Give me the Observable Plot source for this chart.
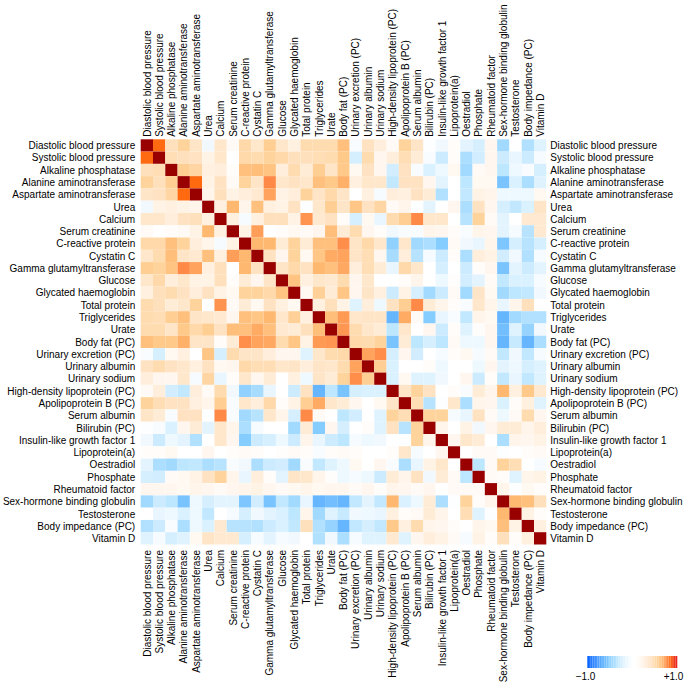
<!DOCTYPE html>
<html><head><meta charset="utf-8">
<script src="https://cdn.jsdelivr.net/npm/d3@7"></script>
<script src="https://cdn.jsdelivr.net/npm/@observablehq/plot@0.6"></script>
<style>
html,body{margin:0;padding:0;background:#fff;overflow:hidden}
#wrap{position:relative;width:685px;height:684px}
#wrap svg{display:block;position:absolute;background:transparent}
</style></head><body><div id="wrap"></div>
<script>
const names = ["Diastolic blood pressure","Systolic blood pressure","Alkaline phosphatase","Alanine aminotransferase","Aspartate aminotransferase","Urea","Calcium","Serum creatinine","C-reactive protein","Cystatin C","Gamma glutamyltransferase","Glucose","Glycated haemoglobin","Total protein","Triglycerides","Urate","Body fat (PC)","Urinary excretion (PC)","Urinary albumin","Urinary sodium","High-density lipoprotein (PC)","Apolipoprotein B (PC)","Serum albumin","Bilirubin (PC)","Insulin-like growth factor 1","Lipoprotein(a)","Oestradiol","Phosphate","Rheumatoid factor","Sex-hormone binding globulin","Testosterone","Body impedance (PC)","Vitamin D"];
// upper triangle of the matrix, each row starts right after the diagonal
const upper = [
[.65,.15,.2,.13,-.04,.12,.03,.18,.12,.22,.12,.08,.17,.17,.17,.27,-.02,.14,.09,.03,.2,.13,-.01,-.04,.02,-.07,-.1,.05,-.2,0,-.17,-.08],
[.16,.15,.14,.07,.12,0,.18,.17,.2,.18,.15,.15,.16,.17,.24,-.1,.17,.05,.09,.16,.1,-.02,-.12,.02,-.18,-.11,.05,-.12,-.06,-.12,-.03],
[.22,.19,.08,.09,.02,.27,.28,.26,.09,.17,.1,.22,.13,.24,.04,.14,.05,-.11,.14,-.02,-.09,-.05,.04,-.2,.03,.05,-.15,-.05,-.02,-.1],
[.65,.07,.14,.03,.2,.13,.5,.12,.14,.12,.27,.24,.33,.08,.12,.12,-.14,.14,.14,.05,-.07,0,-.15,.04,.04,-.28,-.09,-.18,-.08],
[.06,.15,.07,.09,.11,.38,.07,.09,.2,.13,.18,.13,0,.08,-.03,.09,.08,.14,.1,-.17,0,-.14,.07,.06,-.05,-.05,-.05,.04],
[.08,.3,.06,.27,.08,.07,.14,-.01,.12,.22,.13,.25,.14,.19,.03,.06,-.01,-.07,0,.05,-.18,.14,.05,-.1,-.14,-.09,.13],
[.08,-.03,.08,.15,.15,.07,.45,.11,.14,.02,-.1,.04,-.06,.17,.22,.5,.12,.12,0,-.16,.2,.03,-.07,0,.11,.11],
[.07,.4,0,.02,.04,.03,.05,.28,.1,.17,.05,.02,-.04,-.02,-.02,.06,.05,.02,-.02,.06,.05,-.07,-.03,-.16,.11],
[.3,.3,.1,.2,.1,.27,.27,.48,.13,.18,.12,-.23,.12,-.2,-.18,-.25,.03,-.04,-.06,.06,-.27,-.1,-.16,-.1],
[.14,.05,.2,.04,.25,.35,.38,.13,.16,.05,-.19,.09,-.16,-.03,-.12,.02,-.18,.09,.07,-.11,-.04,-.17,-.03],
[.13,.18,.14,.3,.27,.36,.09,.16,.1,-.06,.18,.12,0,-.1,0,-.12,.02,.05,-.28,-.07,-.12,-.07],
[.26,.08,.12,.11,.17,.05,.12,0,0,.02,.06,0,-.05,.01,-.11,-.07,.03,-.14,-.09,-.09,-.03],
[.04,.21,.1,.25,.05,.13,.08,-.12,.07,-.1,-.2,-.12,.03,-.2,.13,.04,-.2,-.15,-.14,-.04],
[.08,.15,.07,-.08,.09,-.05,.14,.22,.5,.1,.06,.02,-.02,.12,.06,-.06,.06,.15,0],
[.28,.42,.12,.13,.13,-.33,.35,.03,-.25,-.06,-.02,-.14,.06,.04,-.33,-.2,-.17,-.17],
[.44,.17,.12,.1,-.15,.12,0,.05,-.12,.02,-.08,.01,.05,-.3,-.08,-.22,-.04],
[.18,.17,.2,-.28,.1,-.15,-.1,-.15,.03,-.05,-.05,.05,-.33,-.13,-.33,-.18],
[.38,.48,-.1,.05,-.11,0,-.03,.02,.04,-.03,.03,-.14,-.04,-.14,-.03],
[.22,-.09,0,0,.02,-.05,0,0,-.05,.05,-.07,-.05,-.1,-.08],
[-.09,.04,-.08,-.08,-.04,0,.05,-.12,.02,-.14,-.06,-.14,-.08],
[.13,.2,.14,0,.02,-.02,.1,.06,.3,.08,.24,.11],
[.16,-.16,-.01,.12,-.18,.06,.05,-.09,.02,.08,-.08],
[.2,.2,-.03,-.06,.14,.03,-.05,.03,.17,.05],
[.06,0,.07,-.04,.05,.1,.1,.06,.09],
[.05,.12,.1,0,-.18,.06,.05,.07],
[0,.03,.03,-.01,0,.02,.03],
[-.15,.03,.2,.16,0,-.03],
[.03,.02,-.08,.06,.07],
[.06,-.01,.04,.02],
[.3,.27,.15],
[.07,.02],
[.08]
];
const colorStops = [-1,-.33,-.25,-.15,-.05,0,.05,.1,.15,.2,.3,.4,.5,.65,.98,1];
const colorRange = ["#0a64ff","#66b5ff","#85ccff","#bde6ff","#eef8ff","#ffffff","#fff7ef","#ffecd6","#ffe0bd","#ffd49c","#ffb870","#ff9e58","#ff8a48","#ff6a10","#e8251f","#990000"];
const legendValues = [-1,-.9,-.8,-.72,-.65,-.57,-.5,-.44,-.38,-.33,-.3,-.27,-.24,-.22,-.2,-.18,-.16,-.14,-.12,-.1,-.085,-.07,-.055,-.04,-.025,-.012,0,0,.012,.025,.04,.055,.07,.085,.1,.115,.13,.145,.16,.18,.2,.225,.25,.3,.36,.44,.52,.6,.7,.8,.9,.98];
const legendLabels = ["−1.0","+1.0"];

const cells = [];
names.forEach((a,i)=>{
  cells.push({a,b:a,v:1});
  (upper[i]||[]).forEach((v,k)=>{
    const b = names[i+1+k];
    cells.push({a,b,v},{a:b,b:a,v});
  });
});
const color = {type:"linear",domain:colorStops,range:colorRange,clamp:true};
const fs = 10;
const font = {fontFamily:"'Liberation Sans',Helvetica,Arial,sans-serif",fontSize:fs+"px",color:"#000",background:"transparent",overflow:"visible"};
const main = Plot.plot({
  width:685,height:684,
  marginLeft:140.7,marginRight:138.7,marginTop:139.3,marginBottom:139.5,
  style:font,
  x:{domain:names,padding:0,round:false,label:null,axis:null},
  y:{domain:names,padding:0,round:false,label:null,axis:null},
  color,
  marks:[
    Plot.cell(cells,{x:"b",y:"a",fill:"v",inset:0}),
    Plot.axisX({anchor:"top",tickRotate:-90,tickSize:0,tickPadding:3,label:null,fontSize:fs}),
    Plot.axisX({anchor:"bottom",tickRotate:-90,tickSize:0,tickPadding:5,label:null,fontSize:fs}),
    Plot.axisY({anchor:"left",tickSize:0,tickPadding:6,label:null,fontSize:fs}),
    Plot.axisY({anchor:"right",tickSize:0,tickPadding:3.5,label:null,fontSize:fs})
  ]
});
main.style.left="0";main.style.top="0";
const legend = Plot.plot({
  width:115,height:34,
  marginLeft:17.3,marginRight:7.7,marginTop:6,marginBottom:16,
  style:{...font,overflow:"visible"},
  x:{domain:d3.range(legendValues.length),padding:0,round:false,axis:null},
  color,
  marks:[
    Plot.cell(legendValues,{x:(d,i)=>i,fill:d=>d}),
    Plot.text([legendLabels[0]],{frameAnchor:"bottom-left",dx:-2.3,dy:11,textAnchor:"middle",fontSize:10,fill:"#000"}),
    Plot.text([legendLabels[1]],{frameAnchor:"bottom-right",dx:-4.3,dy:11,textAnchor:"middle",fontSize:10,fill:"#000"})
  ]
});
legend.style.left="570px";legend.style.top="650px";
const wrap=document.getElementById("wrap");
wrap.append(main,legend);
</script></body></html>
